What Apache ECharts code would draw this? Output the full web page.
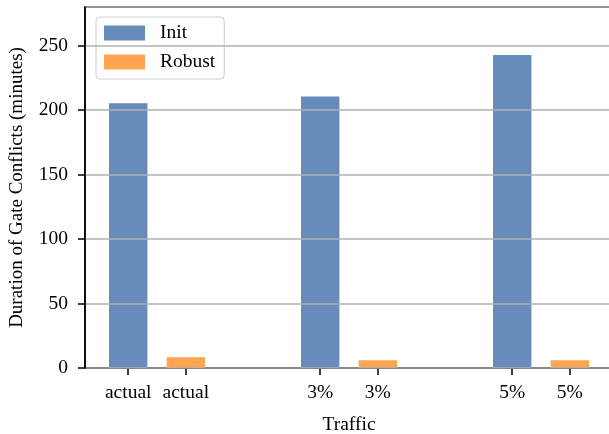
<!DOCTYPE html>
<html>
<head>
<meta charset="utf-8">
<script src="https://cdn.jsdelivr.net/npm/echarts@6/dist/echarts.min.js"></script>
<style>
html,body{margin:0;padding:0;background:#fff;}
#chart{width:609px;height:434px;}
</style>
</head>
<body>
<div id="chart"></div>
<script>
// Data
var categories = ['actual', '3%', '5%'];
var initValues = [205.4, 210.6, 242.7];
var robustValues = [8.3, 6.0, 6.0];
var xTickLabels = ['actual', 'actual', '3%', '3%', '5%', '5%'];
var yTicks = [0, 50, 100, 150, 200, 250];
var seriesNames = ['Init', 'Robust'];

var OFFSET = 0.3; // robust bar offset from group position
var FONT = '"Liberation Serif", "Times New Roman", serif';

var tickPositions = [];
categories.forEach(function (c, i) { tickPositions.push(i, i + OFFSET); });
var initData = initValues.map(function (v, i) { return [i, v]; });
var robustData = robustValues.map(function (v, i) { return [i + OFFSET, v]; });

function labelFor(val) {
  var best = 0, bd = Infinity;
  tickPositions.forEach(function (p, k) {
    var d = Math.abs(p - val);
    if (d < bd) { bd = d; best = k; }
  });
  return xTickLabels[best];
}

var chart = echarts.init(document.getElementById('chart'), null, {renderer: 'canvas'});
chart.setOption({
  animation: false,
  backgroundColor: '#ffffff',
  textStyle: {fontFamily: FONT},
  grid: {
    left: 85, top: 7, width: 528, height: 361,
    outerBoundsMode: 'none', containLabel: false,
    show: true, borderColor: '#000', borderWidth: 1.5, backgroundColor: 'transparent'
  },
  legend: {
    orient: 'vertical',
    left: 96, top: 17,
    padding: [6, 9, 7, 8],
    itemWidth: 41, itemHeight: 15, itemGap: 9,
    icon: 'rect',
    borderColor: '#cccccc', borderWidth: 1, borderRadius: 4,
    backgroundColor: 'rgba(255,255,255,0.8)',
    textStyle: {fontFamily: FONT, fontSize: 19.5, color: '#000', padding: [0, 0, 0, 10]},
    data: seriesNames
  },
  xAxis: {
    type: 'value',
    min: -0.225, max: 2.525,
    name: 'Traffic', nameLocation: 'middle', nameGap: 47,
    nameTextStyle: {fontFamily: FONT, fontSize: 19.5, color: '#000'},
    axisLine: {show: true, onZero: false, lineStyle: {color: '#000', width: 1.5}},
    axisTick: {show: true, customValues: tickPositions, length: 7, lineStyle: {color: '#000', width: 1.5}},
    axisLabel: {show: true, customValues: tickPositions, margin: 15, fontFamily: FONT, fontSize: 19.5, color: '#000',
      formatter: function (v) { return labelFor(v); }},
    splitLine: {show: false}
  },
  yAxis: {
    type: 'value',
    min: 0, max: 280, interval: 50,
    z: 5,
    name: 'Duration of Gate Conflicts (minutes)', nameLocation: 'middle', nameGap: 58,
    nameTextStyle: {fontFamily: FONT, fontSize: 19, color: '#000'},
    axisLine: {show: true, onZero: false, lineStyle: {color: '#000', width: 1.5}},
    axisTick: {show: true, length: 7, lineStyle: {color: '#000', width: 1.5}},
    axisLabel: {show: true, margin: 17, fontFamily: FONT, fontSize: 19.5, color: '#000', showMaxLabel: false,
      formatter: function (v) { return yTicks.indexOf(v) >= 0 ? String(v) : ''; }},
    splitLine: {show: true, lineStyle: {color: '#b0b0b0', width: 1.5}}
  },
  series: [
    {name: seriesNames[0], type: 'bar', data: initData, barWidth: 38.4, barGap: '-100%',
     itemStyle: {color: '#678bbb'}},
    {name: seriesNames[1], type: 'bar', data: robustData, barWidth: 38.4, barGap: '-100%',
     itemStyle: {color: '#ffa552'}}
  ]
});
</script>
</body>
</html>
